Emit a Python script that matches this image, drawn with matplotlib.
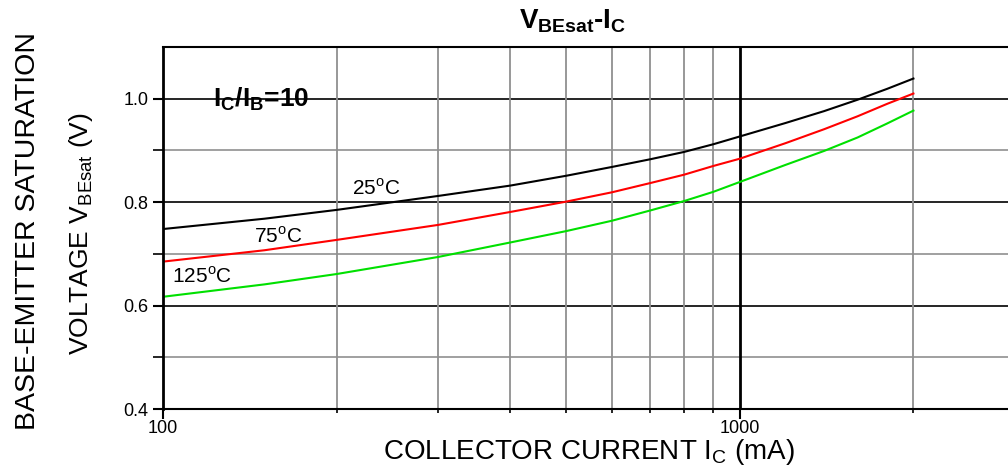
import numpy as np
import matplotlib.pyplot as plt

plt.rcParams['font.family'] = ['Liberation Sans', 'DejaVu Sans']
plt.rcParams['mathtext.fontset'] = 'custom'
plt.rcParams['mathtext.rm'] = 'Liberation Sans'
plt.rcParams['mathtext.bf'] = 'Liberation Sans:bold'

# collector current (mA)
ic = [100, 150, 200, 300, 400, 500, 600, 700, 800, 900, 1000, 1200, 1400, 1600, 1800, 2000]
# V_BEsat (V) for each temperature
vbe_25 = [0.748, 0.768, 0.785, 0.812, 0.832, 0.851, 0.868, 0.883, 0.897, 0.912, 0.927,
          0.953, 0.976, 0.998, 1.019, 1.039]
vbe_75 = [0.685, 0.707, 0.727, 0.756, 0.781, 0.801, 0.819, 0.837, 0.853, 0.870, 0.884,
          0.914, 0.941, 0.966, 0.990, 1.010]
vbe_125 = [0.617, 0.641, 0.661, 0.694, 0.722, 0.744, 0.764, 0.784, 0.802, 0.820, 0.839,
           0.872, 0.899, 0.925, 0.952, 0.977]

fig = plt.figure(figsize=(10.08, 4.69), dpi=100)
ax = fig.add_axes([163/1008, 60/469, 852/1008, 362/469])

ax.plot(ic, vbe_25, color='black', lw=1.5)
ax.plot(ic, vbe_75, color='#ff0000', lw=1.5)
ax.plot(ic, vbe_125, color='#00e000', lw=1.5)

ax.set_xscale('log')
ax.set_xlim(100, 3000)
ax.set_ylim(0.4, 1.1)

# grid
for v in [0.6, 0.8, 1.0]:
    ax.axhline(v, color='black', lw=1.2, zorder=0)
for v in [0.5, 0.7, 0.9]:
    ax.axhline(v, color='#909090', lw=1.2, zorder=0)
for x in [200, 300, 400, 500, 600, 700, 800, 900, 2000]:
    ax.axvline(x, color='#909090', lw=1.3, zorder=0)
ax.axvline(1000, color='black', lw=2, zorder=0)

ax.set_xticks([100, 1000])
ax.set_xticklabels(['100', '1000'])
ax.set_xticks([200, 300, 400, 500, 600, 700, 800, 900, 2000, 3000], minor=True)
ax.xaxis.set_minor_formatter(plt.NullFormatter())
ax.set_yticks([0.4, 0.6, 0.8, 1.0])
ax.set_yticklabels(['0.4', '0.6', '0.8', '1.0'])
ax.set_yticks([0.5, 0.7, 0.9], minor=True)
ax.tick_params(axis='both', which='major', direction='out', length=7, width=1.5, labelsize=13)
ax.tick_params(axis='x', which='major', pad=1)
ax.tick_params(axis='both', which='minor', direction='out', length=3, width=1.2)
ax.tick_params(axis='y', which='minor', length=7)

for s in ax.spines.values():
    s.set_linewidth(1.5)
ax.spines['left'].set_linewidth(2)

fig.text(589/1008, 1 - 467/469, 'COLLECTOR CURRENT I$_{\\mathregular{C}}$ (mA)', fontsize=20,
         ha='center', va='bottom')

fig.text(0.028, 0.507, 'BASE-EMITTER SATURATION', rotation=90, fontsize=20.5,
         ha='center', va='center')
fig.text(0.080, 0.501, 'VOLTAGE V$_{\\mathregular{BEsat}}$ (V)', rotation=90, fontsize=19,
         ha='center', va='center')

fig.text(0.568, 0.955, 'V$_{\\mathbf{BEsat}}$-I$_{\\mathbf{C}}$', fontsize=20,
         ha='center', va='center', fontweight='bold')

ax.text(0.059, 0.855, 'I$_{\\mathbf{C}}$/I$_{\\mathbf{B}}$=10', transform=ax.transAxes,
        fontsize=19, fontweight='bold', ha='left', va='center')

ax.text(213, 0.826, '25$^{\\mathregular{o}}$C', fontsize=15, ha='left', va='center')
ax.text(144, 0.733, '75$^{\\mathregular{o}}$C', fontsize=15, ha='left', va='center')
ax.text(103.5, 0.657, '125$^{\\mathregular{o}}$C', fontsize=15, ha='left', va='center')

fig.savefig('out.png', dpi=100)
